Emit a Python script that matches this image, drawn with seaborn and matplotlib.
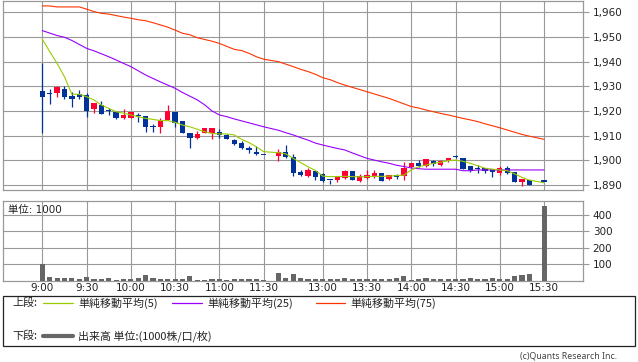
import numpy as np
import pandas as pd
import matplotlib
matplotlib.use("Agg")
import matplotlib.pyplot as plt
from matplotlib.patches import Rectangle
from matplotlib.lines import Line2D
import seaborn as sns

nan = np.nan

# ---- data -------------------------------------------------------------
# bar slots: morning 9:00-11:30 every 5 min, one blank slot, afternoon 12:30-15:30
times = []
for h in range(9, 12):
    for m in range(0, 60, 5):
        if (h, m) <= (11, 30):
            times.append(f"{h}:{m:02d}")
times.append("")
for h in range(12, 16):
    for m in range(0, 60, 5):
        if (12, 30) <= (h, m) <= (15, 30):
            times.append(f"{h}:{m:02d}")

tick_labels = ["9:00", "9:30", "10:00", "10:30", "11:00", "11:30",
               "13:00", "13:30", "14:00", "14:30", "15:00", "15:30"]

opens = [1928.1, 1927.0, 1927.2, 1928.9, 1926.1, 1927.0, 1926.5, 1921.0, 1922.6, 1920.0,
         1919.7, 1917.2, 1917.3, 1918.4, 1917.8, 1913.6, 1913.6, 1916.4, 1919.7, 1915.9,
         1911.2, 1908.9, 1910.9, 1910.9, 1911.4, 1910.3, 1908.2, 1907.2, 1905.0, 1903.5,
         1902.2, nan, 1901.8, 1903.2, 1901.2, 1895.3, 1893.8, 1895.5, 1894.4, 1892.0,
         1892.0, 1893.0, 1895.7, 1891.8, 1892.9, 1893.6, 1894.7, 1892.4, 1894.1, 1893.5,
         1897.2, 1898.8, 1897.7, 1899.9, 1898.1, 1899.6, 1901.3, 1900.8, 1897.7, 1896.8,
         1896.8, 1896.4, 1894.9, 1896.8, 1895.1, 1891.4, 1892.0, nan, 1891.4]
highs = [1939.6, 1928.8, 1930.1, 1930.1, 1927.8, 1928.5, 1927.4, 1923.2, 1924.0, 1921.4,
         1920.1, 1921.0, 1919.6, 1919.3, 1918.0, 1914.7, 1917.0, 1922.4, 1919.7, 1915.9,
         1911.2, 1911.8, 1913.1, 1913.1, 1912.6, 1910.7, 1908.5, 1907.7, 1905.8, 1905.8,
         1902.2, nan, 1904.7, 1906.4, 1902.6, 1896.1, 1896.8, 1895.7, 1894.7, 1892.0,
         1893.6, 1895.9, 1895.7, 1894.3, 1896.1, 1896.1, 1894.7, 1894.2, 1894.6, 1899.3,
         1898.8, 1900.1, 1900.5, 1900.1, 1900.0, 1900.8, 1902.2, 1900.8, 1897.7, 1898.3,
         1896.8, 1896.5, 1897.8, 1897.7, 1895.4, 1892.4, 1892.0, nan, 1891.4]
lows = [1911.0, 1923.0, 1925.8, 1925.0, 1921.8, 1925.0, 1917.7, 1919.3, 1918.9, 1918.4,
        1916.9, 1916.9, 1917.3, 1915.7, 1911.6, 1911.6, 1911.2, 1916.4, 1913.6, 1911.2,
        1905.1, 1908.5, 1910.9, 1908.5, 1909.0, 1908.5, 1906.1, 1904.7, 1902.8, 1902.2,
        1902.2, nan, 1899.7, 1900.9, 1893.8, 1893.8, 1893.4, 1892.2, 1891.4, 1890.2,
        1891.1, 1892.4, 1892.0, 1891.4, 1892.5, 1893.0, 1891.8, 1891.9, 1892.6, 1892.2,
        1896.8, 1897.4, 1897.2, 1897.7, 1897.7, 1899.5, 1900.8, 1896.5, 1895.4, 1894.7,
        1894.8, 1893.3, 1894.2, 1894.3, 1891.4, 1889.7, 1889.8, nan, 1891.4]
closes = [1925.8, 1927.0, 1929.6, 1925.8, 1925.0, 1925.8, 1920.1, 1923.2, 1918.9, 1920.0,
          1917.3, 1918.2, 1919.6, 1917.9, 1913.6, 1913.6, 1916.1, 1920.0, 1915.3, 1911.2,
          1908.9, 1910.7, 1913.1, 1913.1, 1910.3, 1908.5, 1906.6, 1905.1, 1904.0, 1902.6,
          1902.2, nan, 1903.5, 1901.2, 1894.7, 1894.2, 1896.1, 1893.4, 1891.8, 1892.0,
          1893.5, 1895.7, 1892.1, 1893.8, 1894.2, 1894.7, 1891.8, 1894.0, 1893.4, 1896.8,
          1898.8, 1897.7, 1900.5, 1898.5, 1899.9, 1900.8, 1901.3, 1896.6, 1896.0, 1896.3,
          1895.8, 1895.4, 1896.8, 1894.7, 1891.4, 1892.4, 1889.8, nan, 1891.4]

ma5 = [1949.1, 1944.1, 1939.3, 1933.9, 1926.8, 1926.8, 1925.8, 1924.5, 1922.4, 1921.1,
       1919.7, 1919.1, 1918.4, 1917.7, 1917.0, 1916.6, 1916.1, 1916.1, 1915.4, 1914.3,
       1913.6, 1912.6, 1911.6, 1910.9, 1910.7, 1910.7, 1910.3, 1908.5, 1907.2, 1905.5,
       1903.5, nan, 1903.1, 1902.6, 1900.8, 1899.1, 1897.4, 1895.9, 1893.6, 1893.4,
       1893.4, 1893.5, 1893.4, 1893.3, 1893.4, 1893.5, 1893.5, 1893.6, 1893.8, 1894.0,
       1896.1, 1897.4, 1898.1, 1898.8, 1899.2, 1899.9, 1900.1, 1899.6, 1898.8, 1897.8,
       1896.8, 1896.4, 1896.1, 1895.8, 1894.5, 1893.1, 1892.0, nan, 1890.9]
ma25 = [1952.6, 1951.6, 1950.6, 1949.9, 1948.6, 1947.0, 1945.4, 1944.4, 1943.2, 1942.0,
        1940.7, 1939.3, 1938.0, 1936.3, 1934.6, 1933.2, 1931.8, 1930.5, 1929.2, 1927.5,
        1926.0, 1924.5, 1922.5, 1920.0, 1918.4, 1917.7, 1916.8, 1916.0, 1915.2, 1914.4,
        1913.6, nan, 1912.2, 1911.2, 1910.3, 1909.2, 1908.2, 1907.0, 1906.2, 1905.5,
        1904.8, 1904.2, 1903.0, 1901.9, 1900.8, 1900.1, 1899.4, 1898.8, 1898.0, 1897.5,
        1896.9, 1896.6, 1896.4, 1896.4, 1896.4, 1896.4, 1896.4, 1895.8, 1895.8, 1896.1,
        1896.1, 1896.1, 1896.1, 1896.1, 1896.1, 1896.1, 1896.1, nan, 1896.1]
ma75 = [1962.6, 1962.6, 1962.2, 1962.2, 1962.2, 1962.2, 1961.3, 1960.3, 1959.6, 1959.3,
        1958.7, 1958.1, 1957.6, 1957.0, 1956.6, 1955.8, 1954.9, 1954.0, 1952.8, 1951.5,
        1950.9, 1949.7, 1949.0, 1948.3, 1947.4, 1946.2, 1945.0, 1944.5, 1943.4, 1942.0,
        1941.0, nan, 1940.0, 1939.0, 1938.0, 1936.9, 1936.0, 1934.9, 1933.5, 1932.7,
        1931.5, 1930.5, 1929.6, 1928.7, 1927.8, 1926.9, 1926.0, 1925.1, 1924.0, 1922.9,
        1921.8, 1921.2, 1920.4, 1919.7, 1919.0, 1918.4, 1917.7, 1917.0, 1916.4, 1915.7,
        1914.8, 1914.0, 1913.2, 1912.3, 1911.4, 1910.5, 1909.8, nan, 1908.5]

volume = [98, 22, 16, 16, 16, 10, 22, 10, 10, 16, 4, 10, 10, 16, 33, 16, 10, 10, 10, 10,
          29, 4, 4, 10, 10, 4, 10, 10, 10, 10, 4, nan, 45, 16, 41, 16, 10, 12, 8, 8,
          8, 14, 8, 8, 8, 8, 8, 8, 14, 27, 4, 8, 14, 8, 8, 8, 8, 8, 14, 8,
          8, 14, 8, 8, 27, 33, 39, nan, 451]

price_ticks = [1890, 1900, 1910, 1920, 1930, 1940, 1950, 1960]
vol_ticks = [100, 200, 300, 400]

# ---- style ------------------------------------------------------------
sns.set_style("white")
plt.rcParams["font.family"] = ["DejaVu Sans", "Noto Sans CJK JP"]

UP = "#ff0033"
DOWN = "#003399"
GRID = "#999999"
TXT = "#222222"

df = pd.DataFrame({"t": times, "open": opens, "high": highs, "low": lows,
                   "close": closes, "ma5": ma5, "ma25": ma25, "ma75": ma75,
                   "volume": volume})
df["pos"] = np.arange(len(df))

W, H = 638, 362
fig = plt.figure(figsize=(W / 100, H / 100), dpi=100)


def fx(px):
    return px / W


def fy(py):
    return 1 - py / H


ax = fig.add_axes([fx(3), fy(190), fx(583) - fx(3), fy(1) - fy(190)])
axv = fig.add_axes([fx(3), fy(280.5), fx(583) - fx(3), fy(201) - fy(280.5)])

xlim = (-5.33, 73.27)
tick_pos = [df.index[df["t"] == lab][0] for lab in tick_labels]

# ---- candles ----------------------------------------------------------
c = df.dropna(subset=["open"])
col = np.where(c["close"] > c["open"], UP, DOWN)
ax.vlines(c["pos"], c["low"], c["high"], colors=col, linewidth=0.9, zorder=3)
bottom = np.minimum(c["open"], c["close"])
height = np.maximum(np.abs(c["close"] - c["open"]), 0.45)
ax.bar(c["pos"], height, bottom=bottom, width=0.72, color=col, linewidth=0, zorder=4)

# ---- moving averages --------------------------------------------------
for name, color in [("ma75", "#ff3300"), ("ma25", "#9900ff"), ("ma5", "#99cc00")]:
    d = df.dropna(subset=[name])
    sns.lineplot(x=d["pos"].values, y=d[name].values, ax=ax, color=color,
                 linewidth=0.8, zorder=5, estimator=None, sort=False)

ax.set_xlim(*xlim)
ax.set_ylim(1887.97, 1964.6)
ax.set_yticks(price_ticks)
ax.set_yticklabels([f"{v:,}" for v in price_ticks])
ax.set_xticks(tick_pos)
ax.set_xticklabels([])
ax.yaxis.tick_right()
ax.tick_params(axis="y", length=4, width=0.8, color=GRID, labelsize=7.5,
               pad=3, labelcolor=TXT)
ax.tick_params(axis="x", length=0)
ax.grid(True, color=GRID, linewidth=0.8)
ax.set_axisbelow(True)
for s in ax.spines.values():
    s.set_color(GRID)
    s.set_linewidth(0.9)
ax.set_xlabel("")
ax.set_ylabel("")

# ---- volume -----------------------------------------------------------
v = df.dropna(subset=["volume"])
sns.barplot(x=v["pos"], y=v["volume"], ax=axv, native_scale=True, width=0.7,
            color="#666666", saturation=1, errorbar=None, linewidth=0, zorder=3)
axv.set_xlim(*xlim)
axv.set_ylim(0, 483.6)
axv.set_yticks(vol_ticks)
axv.set_yticklabels([str(t) for t in vol_ticks])
axv.yaxis.tick_right()
axv.set_xticks(tick_pos)
axv.set_xticklabels(tick_labels)
axv.tick_params(axis="y", length=4, width=0.8, color=GRID, labelsize=7.5,
                pad=3, labelcolor=TXT)
axv.tick_params(axis="x", length=0, labelsize=7.5, pad=1.5, labelcolor=TXT)
axv.grid(True, color=GRID, linewidth=0.8)
axv.set_axisbelow(True)
for s in axv.spines.values():
    s.set_color(GRID)
    s.set_linewidth(0.9)
axv.set_xlabel("")
axv.set_ylabel("")
axv.text(0.008, 0.89, "単位: 1000", transform=axv.transAxes, fontsize=7.5,
         va="center", ha="left", color=TXT,
         family=["DejaVu Sans", "Noto Sans CJK JP"])

# ---- legend box -------------------------------------------------------
fig.add_artist(Rectangle((fx(3), fy(346)), fx(635) - fx(3), fy(296) - fy(346),
                         transform=fig.transFigure, fill=False,
                         edgecolor=TXT, linewidth=0.9))
jp = ["Noto Sans CJK JP", "DejaVu Sans"]
ty1, ty2 = fy(303), fy(336)
FS = 7.9
fig.text(fx(12), ty1, "上段:", fontsize=FS, va="center", family=jp, color=TXT)
fig.text(fx(12), ty2, "下段:", fontsize=FS, va="center", family=jp, color=TXT)
for (x0, x1, xt, lab, colr) in [(43, 73, 78, "単純移動平均(5)", "#99cc00"),
                                 (172, 202, 207, "単純移動平均(25)", "#9900ff"),
                                 (316, 345, 350, "単純移動平均(75)", "#ff3300")]:
    fig.add_artist(Line2D([fx(x0), fx(x1)], [ty1, ty1], transform=fig.transFigure,
                          color=colr, linewidth=0.9))
    fig.text(fx(xt), ty1, lab, fontsize=FS, va="center", family=jp, color=TXT)
fig.add_artist(Line2D([fx(43), fx(73)], [ty2, ty2], transform=fig.transFigure,
                      color="#666666", linewidth=3))
fig.text(fx(78), ty2, "出来高 単位:(1000株/口/枚)", fontsize=FS, va="center",
         family=jp, color=TXT)

fig.text(fx(617), fy(356), "(c)Quants Research Inc.", fontsize=6.3, va="center",
         ha="right", color="#444444", family=["Noto Sans", "DejaVu Sans"])

fig.savefig("out.png", dpi=100)
